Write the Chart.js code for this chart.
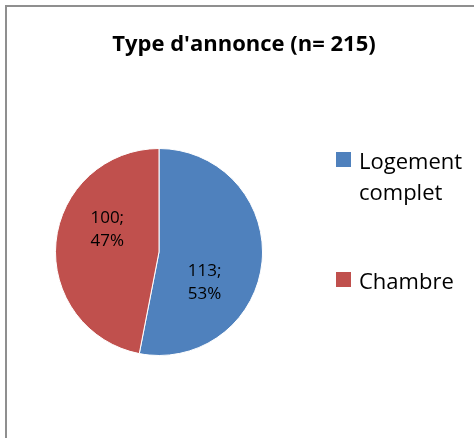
<!DOCTYPE html>
<html>
<head>
<meta charset="utf-8">
<script src="https://cdn.jsdelivr.net/npm/chart.js@4/dist/chart.umd.min.js"></script>
<style>
  html, body { margin: 0; padding: 0; background: #fff; }
  #wrap { width: 474px; height: 438px; position: relative; }
</style>
</head>
<body>
<div id="wrap"><canvas id="pie" width="474" height="438"></canvas></div>
<script>
// ── Data ───────────────────────────────────────────────────────────────────
const TITLE      = "Type d'annonce (n= 215)";
const categories = ["Logement complet", "Chambre"];
const counts     = [113, 100];
const colors     = ["#4F81BD", "#C0504D"];

// label placement inside each slice, as fractions of the radius
const labelOffsets = [[0.44, 0.29], [-0.50, -0.22]];

const FONT = "'Open Sans', Lato, sans-serif";

// ── Helpers ────────────────────────────────────────────────────────────────

function wrapText(ctx, text, maxW) {
  const words = text.split(" ");
  const lines = [];
  let cur = "";
  words.forEach(w => {
    const t = cur ? cur + " " + w : w;
    if (cur && ctx.measureText(t).width > maxW) { lines.push(cur); cur = w; }
    else cur = t;
  });
  if (cur) lines.push(cur);
  return lines;
}

// ── Extras: frame, title, slice labels, legend ─────────────────────────────

const extras = {
  id: "extras",
  afterDraw(chart) {
    const ctx = chart.ctx;
    const meta = chart.getDatasetMeta(0);
    const total = counts.reduce((a, b) => a + b, 0);
    ctx.save();

    // outer frame (runs off the right and bottom edges)
    ctx.strokeStyle = "#8f8f8f";
    ctx.lineWidth = 2;
    ctx.strokeRect(6, 6, 600, 600);

    // title
    ctx.fillStyle = "#000";
    ctx.font = "bold 22px " + FONT;
    ctx.textAlign = "center";
    ctx.textBaseline = "alphabetic";
    ctx.fillText(TITLE, 244, 51);

    // slice labels "value;\npct%"
    ctx.font = "17px " + FONT;
    ctx.textBaseline = "middle";
    meta.data.forEach((arc, i) => {
      const r = arc.outerRadius;
      const x = arc.x + labelOffsets[i][0] * r;
      const y = arc.y + labelOffsets[i][1] * r;
      const pct = Math.round(counts[i] / total * 100);
      ctx.fillText(counts[i] + ";", x, y - 11);
      ctx.fillText(pct + "%", x, y + 12);
    });

    // legend
    ctx.font = "22px " + FONT;
    ctx.textAlign = "left";
    ctx.textBaseline = "alphabetic";
    const lx = 336, sq = 15, lineH = 31;
    let ly = 152;
    categories.forEach((c, i) => {
      ctx.fillStyle = colors[i];
      ctx.fillRect(lx, ly, sq, sq);
      ctx.fillStyle = "#000";
      const lines = wrapText(ctx, c, 115);
      lines.forEach((ln, k) => ctx.fillText(ln, lx + 23, ly + 17 + k * lineH));
      ly += 120;
    });

    ctx.restore();
  }
};

// ── Chart ──────────────────────────────────────────────────────────────────

new Chart(document.getElementById("pie"), {
  type: "pie",
  data: {
    labels: categories,
    datasets: [{
      data: counts,
      backgroundColor: colors,
      borderColor: "#ffffff",
      borderWidth: 1,
    }],
  },
  options: {
    responsive: false,
    animation: false,
    layout: { padding: { left: 55, right: 211, top: 148, bottom: 82 } },
    plugins: {
      legend: { display: false },
      title: { display: false },
      tooltip: { enabled: false },
    },
  },
  plugins: [extras],
});
</script>
</body>
</html>
